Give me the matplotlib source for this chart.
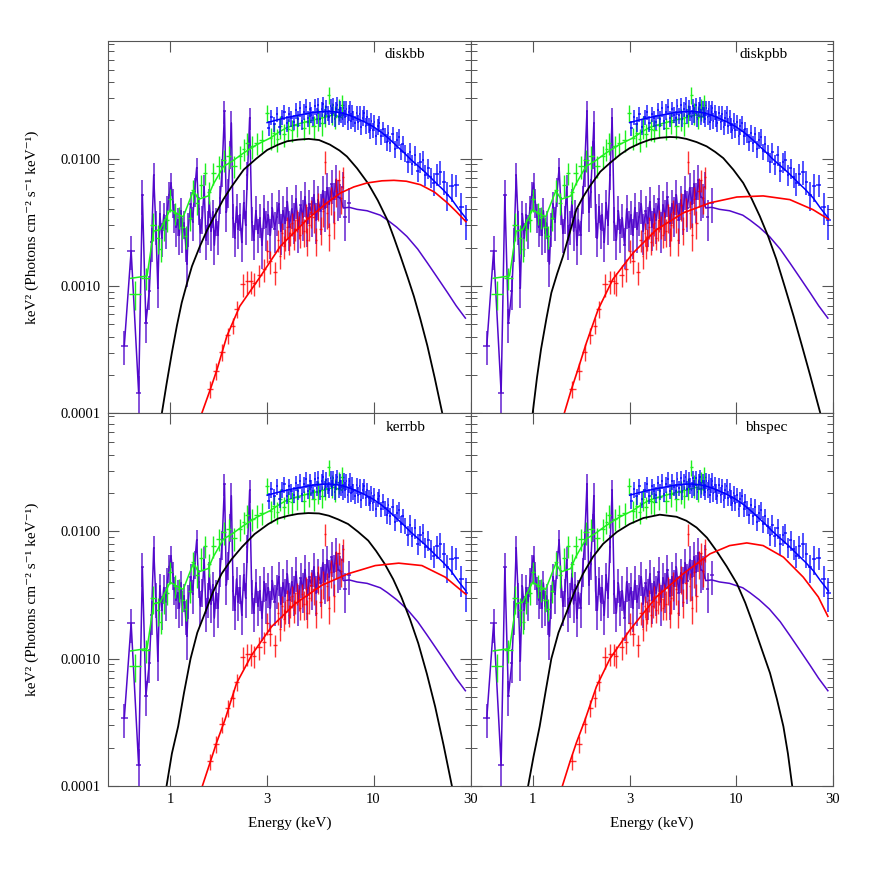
import numpy as np
import matplotlib
matplotlib.use('Agg')
from matplotlib import pyplot as plt
from matplotlib.ticker import FixedLocator, LogLocator, NullLocator, FuncFormatter, NullFormatter

plt.rcParams['font.family'] = ['Liberation Serif', 'DejaVu Serif']

PURPLE = '#5208cc'
GREEN = '#1ef01e'
BLUE = '#0000ff'
RED = '#ff0000'

# ---- data points (same observation in all four panels) ----
purple_e = [0.595, 0.643, 0.70, 0.73, 0.76, 0.79, 0.81, 0.83, 0.85, 0.87,
            0.89, 0.91, 0.93, 0.95, 0.97, 0.99, 1.01, 1.03, 1.05, 1.07,
            1.09, 1.11, 1.13, 1.15, 1.17, 1.19, 1.21, 1.23, 1.26, 1.29,
            1.32, 1.35, 1.38, 1.41, 1.44, 1.47, 1.50, 1.53, 1.56, 1.59,
            1.62, 1.65, 1.68, 1.72, 1.76, 1.80, 1.85, 1.89, 1.93, 1.97,
            2.00, 2.04, 2.08, 2.12, 2.16, 2.20, 2.25, 2.30, 2.35, 2.40,
            2.46, 2.52, 2.58, 2.64, 2.70, 2.76, 2.83, 2.90, 2.97, 3.04,
            3.11, 3.18, 3.26, 3.34, 3.42, 3.50, 3.59, 3.68, 3.77, 3.86,
            3.96, 4.06, 4.16, 4.27, 4.38, 4.49, 4.60, 4.72, 4.84, 4.96,
            5.09, 5.22, 5.35, 5.49, 5.63, 5.77, 5.92, 6.07, 6.22, 6.38,
            6.54, 6.70, 6.87, 7.05, 7.25, 7.60]
purple_f = [3.4e-4, 1.9e-3, 1.45e-4, 5.2e-3, 5.1e-4, 9.2e-4, 2.2e-3, 7.4e-3, 3.0e-3, 9.6e-4,
            3.7e-3, 2.4e-3, 3.6e-3, 2.8e-3, 4.1e-3, 5.2e-3, 6.4e-3, 4.6e-3, 3.5e-3, 2.9e-3,
            3.3e-3, 2.5e-3, 3.9e-3, 2.6e-3, 3.1e-3, 2.2e-3, 1.5e-3, 2.9e-3, 4.4e-3, 3.2e-3,
            5.6e-3, 8.5e-3, 4.0e-3, 2.6e-3, 3.4e-3, 6.0e-3, 2.3e-3, 3.0e-3, 4.6e-3, 2.7e-3,
            3.8e-3, 2.1e-3, 3.3e-3, 2.5e-3, 4.9e-3, 8.0e-3, 2.35e-2, 3.8e-3, 5.5e-3, 1.1e-2,
            1.9e-2, 3.4e-3, 2.4e-3, 4.2e-3, 2.8e-3, 3.6e-3, 2.2e-3, 4.5e-3, 3.0e-3, 7.5e-3,
            2.1e-2, 3.2e-3, 2.3e-3, 3.9e-3, 2.6e-3, 3.4e-3, 2.1e-3, 4.0e-3, 2.9e-3, 3.6e-3,
            2.5e-3, 4.1e-3, 2.8e-3, 3.5e-3, 4.4e-3, 2.7e-3, 3.9e-3, 3.1e-3, 4.6e-3, 2.9e-3,
            4.0e-3, 3.3e-3, 4.8e-3, 2.8e-3, 4.3e-3, 3.5e-3, 5.0e-3, 3.1e-3, 4.4e-3, 3.7e-3,
            5.2e-3, 3.3e-3, 4.7e-3, 3.9e-3, 5.6e-3, 4.1e-3, 5.9e-3, 4.4e-3, 6.3e-3, 4.8e-3,
            6.8e-3, 5.0e-3, 4.9e-3, 6.0e-3, 3.5e-3, 4.5e-3]
purple_rel = [0.3, 0.3, 0.35, 0.3, 0.3, 0.3, 0.3, 0.25, 0.3, 0.3,
              0.25, 0.3, 0.25, 0.3, 0.25, 0.25, 0.2, 0.25, 0.25, 0.3,
              0.25, 0.3, 0.25, 0.3, 0.25, 0.3, 0.35, 0.3, 0.25, 0.3,
              0.25, 0.2, 0.25, 0.3, 0.25, 0.25, 0.3, 0.3, 0.25, 0.3,
              0.25, 0.3, 0.25, 0.3, 0.25, 0.25, 0.2, 0.3, 0.25, 0.25,
              0.25, 0.3, 0.3, 0.25, 0.3, 0.25, 0.3, 0.25, 0.3, 0.25,
              0.2, 0.3, 0.3, 0.3, 0.3, 0.3, 0.35, 0.3, 0.35, 0.3,
              0.35, 0.3, 0.35, 0.3, 0.3, 0.35, 0.3, 0.35, 0.3, 0.35,
              0.3, 0.35, 0.3, 0.35, 0.3, 0.35, 0.3, 0.35, 0.3, 0.35,
              0.3, 0.35, 0.3, 0.35, 0.3, 0.35, 0.3, 0.35, 0.3, 0.35,
              0.3, 0.35, 0.3, 0.3, 0.35, 0.3]

green_e = [0.67, 0.76, 0.82, 0.87, 0.90, 0.93, 0.97, 1.00, 1.06, 1.10,
           1.15, 1.19, 1.25, 1.30, 1.36, 1.42, 1.49, 1.56, 1.63, 1.73,
           1.83, 1.94, 2.07, 2.21, 2.30, 2.38, 2.53, 2.67, 2.83, 2.99,
           3.12, 3.23, 3.36, 3.48, 3.62, 3.80, 3.97, 4.20, 4.53, 4.80,
           5.08, 5.35, 5.58, 5.80, 6.03, 6.25, 6.50, 6.75, 7.00]
green_f = [8.7e-4, 1.16e-3, 3.0e-3, 2.4e-3, 1.94e-3, 2.8e-3, 3.3e-3, 4.8e-3, 3.75e-3, 3.5e-3,
           2.9e-3, 2.45e-3, 3.4e-3, 5.7e-3, 4.5e-3, 6.2e-3, 7.7e-3, 5.5e-3, 7.7e-3, 8.7e-3,
           9.8e-3, 1.04e-2, 8.8e-3, 1.04e-2, 1.19e-2, 1.33e-2, 1.25e-2, 1.33e-2, 1.40e-2, 2.28e-2,
           1.45e-2, 1.59e-2, 1.42e-2, 1.79e-2, 1.55e-2, 1.72e-2, 1.69e-2, 1.85e-2, 1.74e-2, 1.95e-2,
           1.79e-2, 2.05e-2, 1.90e-2, 2.20e-2, 3.18e-2, 2.30e-2, 2.14e-2, 2.45e-2, 2.65e-2]
green_rel = [0.25, 0.2, 0.25, 0.25, 0.2, 0.2, 0.2, 0.2, 0.2, 0.2,
             0.2, 0.2, 0.2, 0.2, 0.2, 0.2, 0.2, 0.2, 0.2, 0.2,
             0.2, 0.2, 0.2, 0.2, 0.2, 0.2, 0.2, 0.2, 0.2, 0.15,
             0.2, 0.2, 0.2, 0.2, 0.2, 0.2, 0.2, 0.2, 0.2, 0.2,
             0.2, 0.2, 0.2, 0.2, 0.15, 0.2, 0.2, 0.2, 0.2]

red_e = [1.57, 1.69, 1.80, 1.92, 2.03, 2.12, 2.27, 2.40, 2.50, 2.58,
         2.74, 2.88, 3.00, 3.10, 3.28, 3.40, 3.47, 3.55, 3.61, 3.67,
         3.75, 3.82, 3.90, 3.97, 4.05, 4.12, 4.20, 4.28, 4.36, 4.45,
         4.55, 4.65, 4.71, 4.80, 4.90, 5.08, 5.20, 5.35, 5.49, 5.65,
         5.80, 5.91, 6.05, 6.20, 6.38, 6.55, 6.73, 6.90, 7.05]
red_f = [1.56e-4, 2.15e-4, 3.05e-4, 4.1e-4, 4.9e-4, 6.6e-4, 1.03e-3, 1.09e-3, 1.09e-3, 1.05e-3,
         1.23e-3, 1.35e-3, 1.9e-3, 1.56e-3, 1.28e-3, 2.3e-3, 1.71e-3, 2.6e-3, 2.05e-3, 2.35e-3,
         2.9e-3, 2.2e-3, 2.6e-3, 3.1e-3, 2.4e-3, 2.8e-3, 3.3e-3, 2.95e-3, 2.5e-3, 3.2e-3,
         2.7e-3, 3.5e-3, 2.3e-3, 3.0e-3, 3.8e-3, 3.5e-3, 2.3e-3, 4.3e-3, 2.8e-3, 3.9e-3,
         9.5e-3, 3.75e-3, 2.5e-3, 4.8e-3, 3.1e-3, 5.6e-3, 6.8e-3, 4.9e-3, 7.2e-3]
red_rel = [0.15, 0.15, 0.15, 0.15, 0.15, 0.15, 0.2, 0.2, 0.2, 0.2,
           0.2, 0.2, 0.2, 0.2, 0.2, 0.2, 0.2, 0.2, 0.2, 0.2,
           0.2, 0.2, 0.2, 0.2, 0.2, 0.2, 0.2, 0.2, 0.2, 0.2,
           0.25, 0.25, 0.25, 0.25, 0.25, 0.25, 0.25, 0.25, 0.25, 0.25,
           0.2, 0.25, 0.25, 0.25, 0.25, 0.25, 0.2, 0.25, 0.2]

blue_e = [3.05, 3.15, 3.25, 3.35, 3.45, 3.55, 3.65, 3.75, 3.85, 3.95,
          4.05, 4.15, 4.25, 4.35, 4.45, 4.55, 4.65, 4.75, 4.85, 4.95,
          5.05, 5.15, 5.25, 5.35, 5.45, 5.55, 5.65, 5.75, 5.85, 5.95,
          6.05, 6.15, 6.25, 6.35, 6.45, 6.55, 6.65, 6.75, 6.85, 6.95,
          7.05, 7.15, 7.25, 7.35, 7.45, 7.55, 7.65, 7.75, 7.85, 7.95,
          8.1, 8.25, 8.4, 8.55, 8.7, 8.85, 9.0, 9.15, 9.3, 9.45,
          9.6, 9.75, 9.9, 10.1, 10.3, 10.5, 10.7, 10.9, 11.1, 11.35,
          11.6, 11.85, 12.1, 12.4, 12.7, 13.0, 13.3, 13.6, 13.9, 14.3,
          14.7, 15.1, 15.5, 16.0, 16.5, 17.0, 17.5, 18.0, 18.6, 19.2,
          19.8, 20.5, 21.3, 22.2, 23.1, 24.2, 25.5, 27.0, 28.5]
blue_f = [.0174, .0213, .0188, .0225, .0178, .0212, .0233, .0190, .0225, .0207,
          .0194, .0240, .0206, .0248, .0197, .0234, .0256, .0207, .0246, .0222,
          .0208, .0258, .0219, .0262, .0206, .0246, .0267, .0216, .0254, .0228,
          .0212, .0260, .0222, .0263, .0205, .0245, .0266, .0214, .0249, .0222,
          .0205, .0250, .0212, .0247, .0194, .0231, .0250, .0199, .0232, .0206,
          .0189, .0229, .0194, .0226, .0177, .0210, .0227, .0182, .0211, .0184,
          .0167, .0199, .0168, .0193, .0150, .0179, .0190, .0150, .0171, .0153,
          .0135, .0160, .0132, .0155, .0119, .0140, .0148, .0114, .0131, .0111,
          .0094, .0113, .0091, .0106, .0080, .0094, .0097, .0075, .0085, .0072,
          .0064, .0076, .0079, .0066, .0052, .0061, .0062, .0042, .0033]
blue_rel = [0.14, 0.14, 0.14, 0.14, 0.14, 0.14, 0.14, 0.14, 0.14, 0.14,
            0.14, 0.14, 0.14, 0.14, 0.14, 0.14, 0.14, 0.14, 0.14, 0.14,
            0.14, 0.14, 0.14, 0.14, 0.14, 0.14, 0.14, 0.14, 0.14, 0.14,
            0.14, 0.14, 0.14, 0.14, 0.14, 0.14, 0.14, 0.14, 0.14, 0.14,
            0.14, 0.14, 0.14, 0.14, 0.14, 0.14, 0.14, 0.14, 0.14, 0.14,
            0.14, 0.14, 0.14, 0.14, 0.14, 0.14, 0.14, 0.14, 0.14, 0.14,
            0.14, 0.14, 0.14, 0.14, 0.14, 0.14, 0.14, 0.14, 0.14, 0.14,
            0.15, 0.15, 0.15, 0.15, 0.15, 0.15, 0.15, 0.15, 0.15, 0.15,
            0.18, 0.18, 0.18, 0.18, 0.18, 0.18, 0.18, 0.18, 0.18, 0.18,
            0.2, 0.2, 0.22, 0.22, 0.25, 0.25, 0.2, 0.28, 0.3]

# ---- models shared by all panels ----
green_model_e = [0.64, 0.77, 0.83, 0.893, 1.0, 1.08, 1.16, 1.30, 1.38, 1.54,
                 1.63, 1.83, 2.01, 2.30, 2.67, 3.1, 3.48, 3.76, 4.4, 5.1, 5.8, 6.38, 7.0]
green_model_f = [1.15e-3, 1.2e-3, 2.7e-3, 2.77e-3, 3.98e-3, 3.7e-3, 3.5e-3, 5.6e-3, 4.8e-3, 5.1e-3,
                 6.3e-3, 8.7e-3, 9.5e-3, 1.11e-2, 1.29e-2, 1.45e-2, 1.64e-2, 1.76e-2, 1.9e-2,
                 2.02e-2, 2.12e-2, 2.21e-2, 2.1e-2]

blue_model_e = [3.0, 3.5, 4.0, 4.5, 5.0, 5.5, 6.0, 6.5, 7.0, 7.5, 8.0, 9.0, 10.0,
                11.0, 12.0, 13.0, 14.0, 15.0, 16.0, 18.0, 20.0, 22.0, 24.0, 26.0, 28.5]
blue_model_f = [.0192, .0205, .0215, .0223, .0230, .0234, .0235, .0233, .0228, .0221, .0212,
                .0195, .0178, .0160, .0142, .0126, .0113, .0101, .0092, .0078, .0066,
                .0057, .0049, .0041, .0034]

# purple model beyond the last joined data point
purple_tail_e = [6.87, 7.1, 7.6, 8.3, 9.3, 10.8, 11.7, 13.0, 14.6, 16.5, 18.4, 20.5, 23.1, 25.5, 28.3]
purple_tail_f = [4.9e-3, 4.1e-3, 4.15e-3, 4.0e-3, 3.9e-3, 3.6e-3, 3.3e-3, 2.9e-3, 2.45e-3, 1.95e-3,
                 1.52e-3, 1.18e-3, 8.9e-4, 7.0e-4, 5.6e-4]

# ---- disc models, one pair per panel ----
diskbb_black_e = [0.88, 0.91, 0.96, 1.02, 1.08, 1.14, 1.21, 1.28, 1.40, 1.52, 1.66, 1.82, 2.00,
                  2.30, 2.65, 3.0, 3.4, 3.76, 4.25, 4.8, 5.4, 6.1, 6.8, 7.4, 8.3, 9.4, 10.5,
                  11.7, 12.6, 13.6, 14.7, 15.8, 17.0, 18.4, 20.0, 21.8, 23.0]
diskbb_black_f = [7e-5, 1.0e-4, 1.7e-4, 3.0e-4, 4.9e-4, 7.4e-4, 1.05e-3, 1.43e-3, 2.05e-3, 2.75e-3,
                  3.6e-3, 4.75e-3, 6.0e-3, 8.2e-3, 1.0e-2, 1.17e-2, 1.29e-2, 1.37e-2, 1.41e-2,
                  1.43e-2, 1.40e-2, 1.29e-2, 1.16e-2, 1.04e-2, 8.4e-3, 6.4e-3, 4.7e-3, 3.3e-3,
                  2.4e-3, 1.7e-3, 1.18e-3, 8.3e-4, 5.5e-4, 3.4e-4, 1.9e-4, 1.0e-4, 6.5e-5]
diskbb_red_e = [1.40, 1.43, 1.575, 1.70, 1.90, 2.20, 2.78, 3.48, 4.71, 5.8, 6.88, 8.0, 9.3,
                11.0, 12.6, 14.5, 17.0, 20.0, 23.1, 25.5, 28.5]
diskbb_red_f = [9e-5, 1e-4, 1.54e-4, 2.21e-4, 4.04e-4, 6.95e-4, 1.19e-3, 2.05e-3, 3.32e-3, 4.4e-3,
                5.38e-3, 6.0e-3, 6.45e-3, 6.7e-3, 6.76e-3, 6.65e-3, 6.25e-3, 5.45e-3, 4.49e-3,
                3.85e-3, 3.2e-3]

diskpbb_black_e = [0.98, 1.0, 1.05, 1.10, 1.17, 1.236, 1.32, 1.41, 1.52, 1.64, 1.77, 1.91, 2.15,
                   2.40, 2.7, 3.0, 3.37, 3.77, 4.25, 4.73, 5.2, 5.7, 6.4, 7.17, 7.9, 8.66, 9.7,
                   10.85, 11.9, 13.1, 14.4, 15.8, 17.4, 19.2, 21.1, 23.2, 26.0, 27.0]
diskpbb_black_f = [7e-5, 1e-4, 1.9e-4, 3.2e-4, 5.6e-4, 8.85e-4, 1.25e-3, 1.71e-3, 2.6e-3, 3.98e-3,
                   5.0e-3, 6.07e-3, 7.9e-3, 9.25e-3, 1.08e-2, 1.21e-2, 1.32e-2, 1.41e-2, 1.46e-2,
                   1.48e-2, 1.47e-2, 1.43e-2, 1.35e-2, 1.25e-2, 1.13e-2, 1.01e-2, 8.2e-3, 6.45e-3,
                   4.9e-3, 3.53e-3, 2.45e-3, 1.62e-3, 9.8e-4, 5.8e-4, 3.4e-4, 1.97e-4, 1.0e-4, 8e-5]
diskpbb_red_e = [1.40, 1.43, 1.55, 1.67, 1.84, 2.10, 2.48, 3.12, 4.06, 5.5, 7.45, 10.1, 13.6,
                 18.4, 23.9, 27.9, 28.5]
diskpbb_red_f = [9e-5, 1e-4, 1.54e-4, 2.21e-4, 3.6e-4, 6.55e-4, 1.13e-3, 1.82e-3, 2.77e-3, 3.75e-3,
                 4.5e-3, 5.0e-3, 5.1e-3, 4.77e-3, 3.98e-3, 3.42e-3, 3.35e-3]

kerrbb_black_e = [0.93, 0.96, 1.02, 1.095, 1.17, 1.26, 1.36, 1.48, 1.62, 1.79, 2.0, 2.25, 2.6,
                  3.04, 3.4, 3.81, 4.25, 4.78, 5.4, 6.03, 6.7, 7.5, 8.4, 9.42, 10.3, 11.35, 12.5,
                  13.7, 15.1, 16.6, 18.3, 20.1, 22.1, 24.3, 25.5]
kerrbb_black_f = [7e-5, 1e-4, 1.8e-4, 2.94e-4, 5.4e-4, 1.0e-3, 1.6e-3, 2.26e-3, 3.3e-3, 4.64e-3,
                  6.0e-3, 7.5e-3, 9.5e-3, 1.14e-2, 1.26e-2, 1.325e-2, 1.37e-2, 1.39e-2, 1.38e-2,
                  1.325e-2, 1.24e-2, 1.14e-2, 9.9e-3, 8.45e-3, 7.0e-3, 5.55e-3, 4.2e-3, 3.05e-3,
                  2.05e-3, 1.32e-3, 7.6e-4, 4.2e-4, 2.1e-4, 1e-4, 7e-5]
kerrbb_red_e = [1.41, 1.44, 1.57, 1.69, 1.86, 2.12, 2.52, 3.15, 4.12, 5.56, 7.5, 10.2, 13.3,
                17.3, 22.5, 28.2, 28.5]
kerrbb_red_f = [9e-5, 1e-4, 1.52e-4, 2.18e-4, 3.31e-4, 6.4e-4, 1.07e-3, 1.78e-3, 2.7e-3, 3.76e-3,
                4.64e-3, 5.38e-3, 5.62e-3, 5.38e-3, 4.37e-3, 3.24e-3, 3.2e-3]

bhspec_black_e = [0.93, 0.95, 1.01, 1.083, 1.16, 1.236, 1.34, 1.46, 1.6, 1.77, 1.98, 2.22, 2.6,
                  3.0, 3.5, 4.22, 5.1, 5.7, 6.4, 7.2, 8.0, 9.0, 10.1, 11.1, 12.1, 13.3, 14.7,
                  15.9, 17.1, 18.0, 18.9, 19.5]
bhspec_black_f = [7e-5, 1e-4, 1.7e-4, 2.94e-4, 5.6e-4, 1.0e-3, 1.6e-3, 2.26e-3, 3.3e-3, 4.64e-3,
                  6.3e-3, 7.96e-3, 9.9e-3, 1.14e-2, 1.27e-2, 1.35e-2, 1.30e-2, 1.21e-2, 1.07e-2,
                  8.9e-3, 7.05e-3, 5.3e-3, 3.89e-3, 2.75e-3, 1.89e-3, 1.22e-3, 7.7e-4, 4.8e-4,
                  2.94e-4, 1.8e-4, 1e-4, 7e-5]
bhspec_red_e = [1.37, 1.40, 1.52, 1.64, 1.81, 2.06, 2.40, 3.0, 4.06, 5.5, 7.45, 9.3, 11.3,
                13.6, 17.1, 21.4, 25.4, 28.3]
bhspec_red_f = [9e-5, 1e-4, 1.52e-4, 2.18e-4, 3.31e-4, 6.04e-4, 1.0e-3, 1.67e-3, 3.05e-3, 4.64e-3,
                6.65e-3, 7.72e-3, 8.1e-3, 7.72e-3, 6.27e-3, 4.37e-3, 3.05e-3, 2.15e-3]

x_ticks = [1, 3, 10, 30]
x_tick_labels = ['1', '3', '10', '30']


def half_width(e):
    # half of the bin width, from the spacing of neighbouring channels
    return 0.5 * np.gradient(np.asarray(e, dtype=float))


def data_cross(ax, e, f, rel, color, alpha=1.0, lw=0.9):
    f = np.asarray(f)
    ax.errorbar(e, f, xerr=half_width(e), yerr=f * np.asarray(rel), fmt='none',
                ecolor=color, elinewidth=lw, capsize=0, alpha=alpha)


def draw_panel(ax, name, black_e, black_f, model_red_e, model_red_f, show_x, show_y):
    # purple data, joined by its model line at low energy
    data_cross(ax, purple_e, purple_f, purple_rel, PURPLE, alpha=0.9, lw=1.1)
    low = [i for i, e in enumerate(purple_e) if e <= 6.87]
    ax.plot([purple_e[i] for i in low] + purple_tail_e[1:],
            [purple_f[i] for i in low] + purple_tail_f[1:], color=PURPLE, lw=1.1)

    data_cross(ax, green_e, green_f, green_rel, GREEN, lw=1.0)
    ax.plot(green_model_e, green_model_f, color=GREEN, lw=1.1)

    data_cross(ax, red_e, red_f, red_rel, RED, alpha=0.8, lw=1.0)
    data_cross(ax, blue_e, blue_f, blue_rel, BLUE, alpha=0.8, lw=1.2)
    ax.plot(blue_model_e, blue_model_f, color=BLUE, lw=1.1)

    ax.plot(black_e, black_f, color='black', lw=1.3)
    ax.plot(model_red_e, model_red_f, color=RED, lw=1.2)

    ax.set_xscale('log')
    ax.set_yscale('log')
    ax.set_xlim(0.495, 30.0)
    ax.set_ylim(1e-4, 0.0842)

    ax.xaxis.set_major_locator(FixedLocator(x_ticks))
    ax.xaxis.set_minor_locator(NullLocator())
    ax.yaxis.set_major_locator(LogLocator(base=10))
    ax.yaxis.set_minor_locator(LogLocator(base=10, subs=np.arange(2, 10)))
    ax.yaxis.set_minor_formatter(NullFormatter())
    ax.tick_params(which='both', direction='in', top=True, right=True, colors='#555555',
                   labelcolor='black', labelsize=10.5, pad=5)
    ax.tick_params(which='major', length=8, width=0.8)
    ax.tick_params(which='minor', length=4, width=0.7)

    if show_x:
        ax.set_xticklabels(x_tick_labels)
        ax.set_xlabel('Energy (keV)', fontsize=11)
        ax.xaxis.set_label_coords(0.5, -0.082)
    else:
        ax.set_xticklabels([])
    if show_y:
        ax.yaxis.set_major_formatter(FuncFormatter(lambda v, p: '%.4f' % v))
        ax.set_ylabel('keV\u00b2 (Photons cm\u207b\u00b2 s\u207b\u00b9 keV\u207b\u00b9)', fontsize=11)
        ax.yaxis.set_label_coords(-0.19, 0.5)
    else:
        ax.yaxis.set_major_formatter(NullFormatter())

    for s in ax.spines.values():
        s.set_color('#555555')
        s.set_linewidth(0.8)

    ax.text(0.875, 0.962, name, transform=ax.transAxes, ha='right', va='center', fontsize=11)


fig = plt.figure(figsize=(8.72, 8.72), dpi=100)
left, width = 0.1239, 0.4157
bottom, height = 0.0986, 0.4273

ax_tl = fig.add_axes([left, bottom + height, width, height])
ax_tr = fig.add_axes([left + width, bottom + height, width, height])
ax_bl = fig.add_axes([left, bottom, width, height])
ax_br = fig.add_axes([left + width, bottom, width, height])

draw_panel(ax_tl, 'diskbb', diskbb_black_e, diskbb_black_f, diskbb_red_e, diskbb_red_f, False, True)
draw_panel(ax_tr, 'diskpbb', diskpbb_black_e, diskpbb_black_f, diskpbb_red_e, diskpbb_red_f, False, False)
draw_panel(ax_bl, 'kerrbb', kerrbb_black_e, kerrbb_black_f, kerrbb_red_e, kerrbb_red_f, True, True)
draw_panel(ax_br, 'bhspec', bhspec_black_e, bhspec_black_f, bhspec_red_e, bhspec_red_f, True, False)

fig.savefig('out.png', dpi=100)
